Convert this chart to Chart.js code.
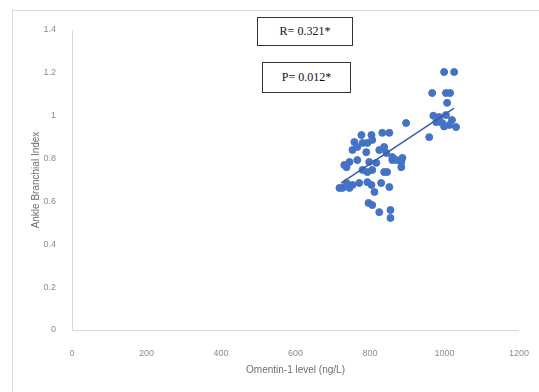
<!DOCTYPE html>
<html>
<head>
<meta charset="utf-8">
<script src="https://cdn.jsdelivr.net/npm/chart.js@4.4.0/dist/chart.umd.min.js"></script>
<style>
  body { margin: 0; background: #fff; overflow: hidden; }
  #wrap { position: relative; width: 539px; height: 392px; }
  #frame { position: absolute; left: 12px; top: 10px; width: 540px; height: 400px; border: 1px solid #d9d9d9; }
  #abiChart { position: absolute; left: 0; top: 0; }
  .note { position: absolute; border: 1px solid #333; background: #fff; font-family: "Liberation Serif", serif; font-size: 12px; color: #111; text-align: center; }
</style>
</head>
<body>
<div id="wrap">
  <div id="frame"></div>
  <canvas id="abiChart" width="539" height="392"></canvas>
  <div class="note" style="left:257px; top:17px; width:94px; height:27px; line-height:27px;">R= 0.321*</div>
  <div class="note" style="left:262px; top:62px; width:87px; height:29px; line-height:29px;">P= 0.012*</div>
</div>
<script>
// Omentin-1 level (ng/L) vs Ankle Branchial Index
const omentin = [
  777, 804, 833, 852, 897, 758, 780, 806, 753, 790,
  825, 844, 745, 766, 798, 817, 860, 884, 884, 737,
  780, 806, 846, 737, 753, 726, 771, 793, 804, 830,
  852, 812, 793, 838, 796, 806, 825, 855, 855, 731,
  745, 766, 793, 838, 860, 887, 718, 871,
  999, 1026, 967, 1004, 1015, 1007, 986, 1004, 1020, 994,
  1013, 1031, 978, 959, 970, 999
];
const abi = [
  0.91, 0.91, 0.92, 0.92, 0.966, 0.877, 0.873, 0.887, 0.84, 0.83,
  0.84, 0.826, 0.784, 0.793, 0.784, 0.78, 0.793, 0.784, 0.76, 0.76,
  0.747, 0.747, 0.737, 0.686, 0.677, 0.663, 0.686, 0.69, 0.677, 0.686,
  0.667, 0.644, 0.737, 0.737, 0.593, 0.583, 0.55, 0.56, 0.523, 0.77,
  0.663, 0.854, 0.873, 0.854, 0.807, 0.803, 0.663, 0.793,
  1.204, 1.204, 1.106, 1.106, 1.106, 1.06, 0.994, 1.003, 0.98, 0.966,
  0.957, 0.947, 0.97, 0.9, 1.0, 0.95
];

// trend line ends
const trendX = [722, 1026];
const trendY = [0.685, 1.035];

const xTicks = [0, 200, 400, 600, 800, 1000, 1200];
const yTicks = [0, 0.2, 0.4, 0.6, 0.8, 1, 1.2, 1.4];

const points = omentin.map((x, i) => ({ x: x, y: abi[i] }));
const trend = trendX.map((x, i) => ({ x: x, y: trendY[i] }));

const ctx = document.getElementById('abiChart').getContext('2d');
new Chart(ctx, {
  type: 'scatter',
  data: {
    datasets: [
      {
        label: 'Trend',
        type: 'line',
        data: trend,
        borderColor: '#3a5ba8',
        borderWidth: 1.5,
        pointRadius: 0,
        fill: false,
        order: 0
      },
      {
        label: 'ABI',
        data: points,
        backgroundColor: '#4472c4',
        borderColor: '#4472c4',
        pointRadius: 3.5,
        pointHoverRadius: 3.5,
        order: 1
      }
    ]
  },
  options: {
    responsive: false,
    animation: false,
    layout: { padding: { left: 30, right: 19, top: 30, bottom: 12 } },
    plugins: {
      legend: { display: false },
      tooltip: { enabled: false }
    },
    scales: {
      x: {
        type: 'linear',
        min: 0,
        max: 1200,
        afterBuildTicks: axis => { axis.ticks = xTicks.map(v => ({ value: v })); },
        afterFit: axis => { axis.height = 50; },
        grid: { display: false },
        border: { display: true, color: '#d9d9d9' },
        ticks: {
          color: '#8c8c8c', padding: 10,
          font: { family: 'Liberation Sans', size: 9 },
          callback: v => String(v)
        },
        title: {
          display: true,
          text: 'Omentin-1 level (ng/L)',
          color: '#6e6e6e',
          padding: { top: 2 },
          font: { family: 'Liberation Sans', size: 10 }
        }
      },
      y: {
        min: 0,
        max: 1.4,
        afterBuildTicks: axis => { axis.ticks = yTicks.map(v => ({ value: v })); },
        afterFit: axis => { axis.width = 42; },
        grid: { display: false },
        border: { display: true, color: '#d9d9d9' },
        ticks: {
          color: '#8c8c8c', padding: 8,
          font: { family: 'Liberation Sans', size: 9 },
          callback: v => String(Math.round(v * 10) / 10)
        },
        title: {
          display: true,
          text: 'Ankle Branchial Index',
          color: '#6e6e6e',
          padding: { top: 0, bottom: 0 },
          font: { family: 'Liberation Sans', size: 10 }
        }
      }
    }
  }
});
</script>
</body>
</html>
